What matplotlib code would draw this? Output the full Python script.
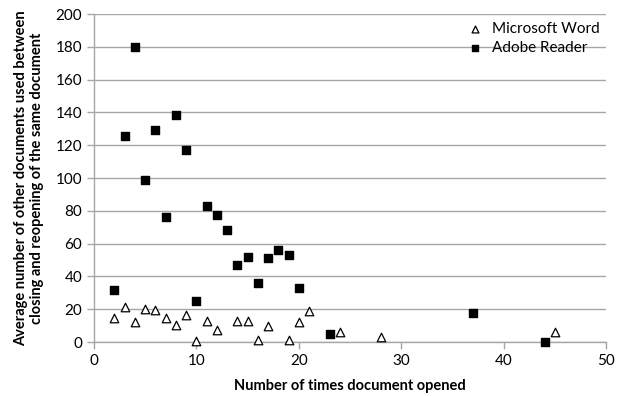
import matplotlib
matplotlib.use("Agg")
import matplotlib.pyplot as plt

plt.rcParams['font.family'] = ['Lato', 'DejaVu Sans']

word_x = [2, 3, 4, 5, 6, 7, 8, 9, 10, 11, 12, 14, 15, 16, 17, 19, 20, 21, 24, 28, 45]
word_y = [14.5, 21.5, 12.5, 20, 19.5, 14.5, 10.5, 16.5, 0.5, 13, 7.5, 13, 13, 1.5, 10, 1.5, 12, 19, 6, 3, 6]

adobe_x = [2, 3, 4, 5, 6, 7, 8, 9, 10, 11, 12, 13, 14, 15, 16, 17, 18, 19, 20, 23, 37, 44]
adobe_y = [32, 125.5, 180, 99, 129.5, 76, 138.5, 117, 25, 83, 77.5, 68, 47, 52, 36, 51, 56, 53, 33, 5, 17.5, 0]

x_ticks = [0, 10, 20, 30, 40, 50]
y_ticks = [0, 20, 40, 60, 80, 100, 120, 140, 160, 180, 200]

fig = plt.figure(figsize=(6.21, 3.96), dpi=100)
ax = fig.add_axes([94/621, 54/396, 512/621, 328/396])

ax.scatter(word_x, word_y, marker='^', s=38, facecolors='white', edgecolors='black',
           linewidths=0.9, label='Microsoft Word', zorder=3, clip_on=False)
ax.scatter(adobe_x, adobe_y, marker='s', s=30, color='black', label='Adobe Reader', zorder=3,
           clip_on=False)

ax.set_xlim(0, 50)
ax.set_ylim(0, 200)
ax.set_xticks(x_ticks)
ax.set_yticks(y_ticks)
ax.yaxis.grid(True, color='#a6a6a6', linewidth=1.0)
ax.set_axisbelow(True)
for s in ['top', 'right']:
    ax.spines[s].set_visible(False)
for s in ['left', 'bottom']:
    ax.spines[s].set_color('#a6a6a6')
    ax.spines[s].set_linewidth(1.0)
ax.tick_params(axis='both', colors='#a6a6a6', labelcolor='black', labelsize=11, length=5, width=1)

ax.set_xlabel('Number of times document opened', fontsize=10.5, fontweight='bold', labelpad=8)
ax.set_ylabel('Average number of other documents used between\nclosing and reopening of the same document',
              fontsize=10.5, fontweight='bold', labelpad=8)

ax.legend(loc='upper right', frameon=False, fontsize=11, handletextpad=0.1,
          borderaxespad=0.0, markerscale=0.8, bbox_to_anchor=(1.0, 0.995), labelspacing=0.35)

fig.savefig('out.png', dpi=100)
